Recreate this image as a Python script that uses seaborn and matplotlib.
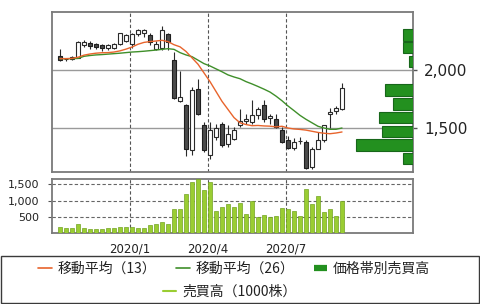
import matplotlib
matplotlib.use("Agg")
import matplotlib.pyplot as plt
from matplotlib.lines import Line2D
from matplotlib.patches import Rectangle, Patch
import seaborn as sns
import numpy as np

# ---------------- data ----------------
week = list(range(48))
open_ = [2120, 2097, 2092, 2106, 2215, 2233, 2221, 2213, 2192, 2190, 2227, 2250,
         2227, 2313, 2315, 2299, 2184, 2190, 2313, 2090, 1730, 1700, 1308, 1833,
         1523, 1265, 1423, 1537, 1365, 1408, 1529, 1560, 1552, 1609, 1701, 1585,
         1575, 1480, 1394, 1330, 1385, 1379, 1164, 1322, 1394, 1625, 1645, 1661]
high = [2178, 2103, 2120, 2247, 2256, 2250, 2236, 2227, 2227, 2233, 2322, 2313,
        2322, 2350, 2350, 2322, 2247, 2378, 2315, 2157, 1995, 1710, 1853, 1920,
        1552, 1552, 1537, 1552, 1523, 1509, 1661, 1624, 1739, 1681, 1739, 1624,
        1624, 1509, 1431, 1414, 1423, 1394, 1336, 1466, 1529, 1670, 1690, 1891]
low = [2080, 2075, 2085, 2106, 2198, 2184, 2184, 2164, 2170, 2184, 2218, 2241,
       2190, 2293, 2284, 2213, 2170, 2170, 2170, 1750, 1725, 1259, 1265, 1609,
       1293, 1236, 1394, 1336, 1336, 1394, 1509, 1537, 1537, 1581, 1552, 1537,
       1500, 1375, 1316, 1308, 1365, 1150, 1150, 1316, 1379, 1500, 1624, 1652]
close = [2086, 2092, 2108, 2241, 2238, 2206, 2198, 2192, 2213, 2227, 2319, 2305,
         2313, 2342, 2342, 2241, 2227, 2345, 2238, 1757, 1770, 1322, 1825, 1624,
         1308, 1480, 1500, 1351, 1451, 1480, 1558, 1575, 1609, 1667, 1581, 1605,
         1509, 1380, 1330, 1379, 1392, 1155, 1322, 1394, 1523, 1640, 1672, 1845]
ma13 = [2098, 2098, 2100, 2110, 2128, 2138, 2145, 2149, 2150, 2155, 2165, 2180,
        2198, 2222, 2238, 2245, 2250, 2256, 2245, 2218, 2200, 2160, 2105, 2050,
        1975, 1900, 1815, 1730, 1660, 1590, 1545, 1530, 1520, 1522, 1518, 1516,
        1510, 1515, 1500, 1492, 1488, 1482, 1472, 1462, 1455, 1451, 1457, 1466]
ma26 = [2098, 2098, 2098, 2100, 2118, 2125, 2130, 2133, 2137, 2141, 2145, 2150,
        2155, 2158, 2162, 2167, 2172, 2178, 2184, 2178, 2150, 2130, 2115, 2085,
        2055, 2035, 2010, 1985, 1958, 1940, 1925, 1900, 1880, 1858, 1835, 1810,
        1775, 1735, 1690, 1650, 1609, 1575, 1545, 1515, 1500, 1489, 1489, 1500]
volume = [200, 165, 165, 290, 165, 125, 125, 125, 165, 165, 200, 200,
          200, 165, 165, 250, 290, 330, 290, 730, 730, 1200, 1580, 1660,
          1330, 1580, 690, 810, 890, 810, 920, 600, 980, 500, 570, 500,
          520, 760, 730, 690, 520, 1370, 890, 1140, 640, 730, 520, 980]
band_price = [2302, 2195, 2075, 1955, 1828, 1706, 1590, 1470, 1354, 1236]
band_volume = [10, 10, 4, 0, 28, 20, 34, 31, 57, 10]
quarter_pos = [11.7, 24.7, 37.7]
quarter_labels = ["2020/1", "2020/4", "2020/7"]
price_ticks = [1500, 2000]
price_tick_labels = ["1,500", "2,000"]
vol_ticks = [500, 1000, 1500]
vol_tick_labels = ["500", "1,000", "1,500"]

# ---------------- style ----------------
sns.set_style("white")
plt.rcParams["font.family"] = ["DejaVu Sans"]
CJK = ["Noto Sans CJK JP", "DejaVu Sans"]

C_MA13 = "#e8642c"
C_MA26 = "#3f8f2a"
C_BAND = "#23901f"
C_BAND_E = "#17661a"
C_VOL = "#9acd32"
C_VOL_E = "#72a321"
FRAME = "#7a7a7a"

fig = plt.figure(figsize=(4.8, 3.04), dpi=100)
W, H = 480.0, 304.0
ax = fig.add_axes([52 / W, 1 - 172 / H, 361 / W, 160 / H])
axv = fig.add_axes([52 / W, 1 - 233 / H, 361 / W, 54 / H])

xmin, xmax = -1.33, 58.83

# ---------------- main price panel ----------------
for p in price_ticks:
    ax.axhline(p, color="#9a9a9a", lw=1.0, zorder=0)
for q in quarter_pos:
    ax.axvline(q, color="#555555", lw=0.8, ls=(0, (3, 2)), zorder=0)

o = np.array(open_); c = np.array(close)
up = c >= o
ax.vlines(week, low, high, color="#2a2a2a", lw=0.8, zorder=2)
ax.bar(np.array(week)[up], (c - o)[up], bottom=o[up], width=0.65,
       color="white", edgecolor="#2a2a2a", linewidth=0.8, zorder=3)
ax.bar(np.array(week)[~up], (o - c)[~up], bottom=c[~up], width=0.65,
       color="#4a4a4a", edgecolor="#1e1e1e", linewidth=0.8, zorder=3)

sns.lineplot(x=week, y=ma26, color=C_MA26, lw=1.0, ax=ax, zorder=4)
sns.lineplot(x=week, y=ma13, color=C_MA13, lw=1.0, ax=ax, zorder=5)

ax.set_xlim(xmin, xmax)
ax.set_ylim(1121, 2500)
ax.set_xticks([])
ax.set_xlabel("")
ax.set_ylabel("")
ax.yaxis.tick_right()
ax.set_yticks(price_ticks)
ax.set_yticklabels(price_tick_labels, fontsize=11, color="#222222")
ax.tick_params(axis="y", which="both", right=True, left=False, length=3,
               width=1, color="#555555", pad=5)
for s in ax.spines.values():
    s.set_color(FRAME)
    s.set_linewidth(1.3)

# price-band volume (horizontal bars from right edge)
tw = ax.twiny()
tw.barh(band_price, band_volume, height=100, color=C_BAND, edgecolor=C_BAND_E,
        linewidth=0.8, zorder=3)
tw.set_xlim(361, 0)
tw.set_xticks([])
for s in tw.spines.values():
    s.set_visible(False)

# ---------------- volume panel ----------------
for v in vol_ticks:
    axv.axhline(v, color="#666666", lw=0.8, ls=(0, (3, 2)), zorder=0)
for q in quarter_pos:
    axv.axvline(q, color="#555555", lw=0.8, ls=(0, (3, 2)), zorder=0)
sns.barplot(x=week, y=volume, native_scale=True, width=0.65, color=C_VOL,
            saturation=1, edgecolor=C_VOL_E, linewidth=0.5, ax=axv, zorder=3)
axv.set_xlim(xmin, xmax)
axv.set_ylim(0, 1670)
axv.set_xlabel("")
axv.set_ylabel("")
axv.set_yticks(vol_ticks)
axv.set_yticklabels(vol_tick_labels, fontsize=8, color="#222222")
axv.set_xticks(quarter_pos)
axv.set_xticklabels(quarter_labels, fontsize=8.5, color="#222222")
axv.tick_params(axis="y", left=True, length=3, width=0.8, color="#555555", pad=6)
axv.tick_params(axis="x", bottom=False, length=0, pad=7)
for s in axv.spines.values():
    s.set_color(FRAME)
    s.set_linewidth(1.3)

# ---------------- legend ----------------
h1 = [Line2D([], [], color=C_MA13, lw=1.2),
      Line2D([], [], color=C_MA26, lw=1.2),
      Line2D([], [], color=C_BAND, lw=4.5, solid_capstyle="butt")]
l1 = ["移動平均（13）", "移動平均（26）", "価格帯別売買高"]
leg1 = fig.legend(h1, l1, loc="center", bbox_to_anchor=(0.488, 1 - 269 / H),
                  ncol=3, frameon=False, prop={"family": CJK, "size": 10},
                  handlelength=1.0, handletextpad=0.4, columnspacing=1.4,
                  borderpad=0, labelcolor="#222222")
h2 = [Line2D([], [], color=C_VOL, lw=1.5)]
fig.legend(h2, ["売買高（1000株）"], loc="center", bbox_to_anchor=(0.478, 1 - 292 / H),
           frameon=False, prop={"family": CJK, "size": 10},
           handlelength=1.0, handletextpad=0.4, borderpad=0, labelcolor="#222222")
fig.add_artist(Rectangle((0.5 / W, 1 - 303 / H), 478.5 / W, 47 / H,
                         transform=fig.transFigure, fill=False,
                         edgecolor="#3a3a3a", lw=1.0))

fig.savefig("out.png", dpi=100)
